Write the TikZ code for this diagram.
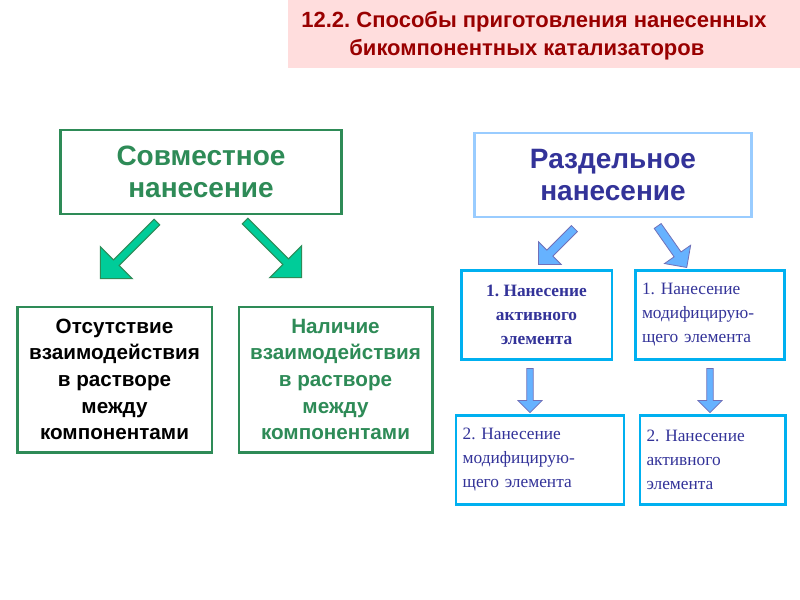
\documentclass[tikz,border=0pt]{standalone}
\usepackage{fontspec}
\setmainfont{Liberation Sans}
\newfontfamily\serifcy{Liberation Serif}
\usetikzlibrary{shapes.arrows}
\frenchspacing
\definecolor{tgreen}{RGB}{46,139,87}
\definecolor{agreen}{RGB}{0,204,153}
\definecolor{ablue}{RGB}{102,178,255}
\definecolor{lblue}{RGB}{153,204,255}
\definecolor{cyanb}{RGB}{0,176,240}
\definecolor{dblue}{RGB}{51,51,153}
\definecolor{dred}{RGB}{153,0,0}
\definecolor{pinkbg}{RGB}{255,221,221}
\begin{document}
\begin{tikzpicture}[x=0.75pt,y=-0.75pt,
  bigbox/.style={draw,line width=2.2pt,align=center,font=\bfseries\fontsize{21}{24}\selectfont},
  midbox/.style={draw=tgreen,line width=2pt,align=center,font=\bfseries\fontsize{15.5}{20}\selectfont},
  smallbox/.style={draw=cyanb,line width=2pt,align=left,text=dblue,font=\serifcy\fontsize{13}{18}\selectfont},
  garrow/.style={single arrow,draw=tgreen,fill=agreen,line width=0.8pt,minimum height=60pt,minimum width=34pt,single arrow head extend=9pt,inner sep=1.5pt},
  barrow/.style={single arrow,draw=dblue!70,fill=ablue,line width=0.6pt,minimum height=38pt,minimum width=24pt,single arrow head extend=5pt,inner sep=1.5pt}]
\useasboundingbox (0,0) rectangle (800,600);
\fill[white] (0,0) rectangle (800,600);
\fill[pinkbg] (288,0) rectangle (800,68);
\node[text=dred,font=\bfseries\fontsize{16.5}{21}\selectfont,align=left] (title) at (534,36)
  {12.2. Способы приготовления нанесенных\\\hspace*{36pt}бикомпонентных катализаторов};
\node[bigbox,draw=tgreen,text=tgreen,minimum width=211pt,minimum height=63pt] (sov) at (201,172) {Совместное\\нанесение};
\node[bigbox,draw=lblue,text=dblue,minimum width=208pt,minimum height=63pt] (raz) at (613,175) {Раздельное\\нанесение};
\node[midbox,text=black,minimum width=146pt,minimum height=109pt] (ots) at (114.5,379.5) {Отсутствие\\взаимодействия\\в растворе\\между\\компонентами};
\node[midbox,text=tgreen,minimum width=145pt,minimum height=109pt] (nal) at (335.5,379.5) {Наличие\\взаимодействия\\в растворе\\между\\компонентами};
\node[garrow,rotate=-135] (ga1) at (130,249) {};
\node[garrow,rotate=-45] (ga2) at (272,248) {};
\node[barrow,rotate=-135] (ba1) at (558,245) {};
\node[barrow,rotate=-55] (ba2) at (671,245) {};
\node[smallbox,minimum width=113pt,minimum height=67pt,align=center,font=\serifcy\bfseries\fontsize{13}{18}\selectfont] (b1) at (536.5,315) {1. Нанесение\\активного\\элемента};
\node[smallbox,minimum width=112pt,minimum height=67pt,text width=102pt] (b2) at (710,315) {1. Нанесение\\модифицирую-\\щего элемента};
\node[smallbox,minimum width=126pt,minimum height=67pt,text width=116pt] (b3) at (540,460) {2. Нанесение\\модифицирую-\\щего элемента};
\node[smallbox,minimum width=109pt,minimum height=67pt,text width=99pt] (b4) at (712.5,460) {2. Нанесение\\активного\\элемента};
\node[barrow,rotate=-90,minimum height=33pt,minimum width=18pt] (da1) at (530,389) {};
\node[barrow,rotate=-90,minimum height=33pt,minimum width=18pt] (da2) at (710,389) {};
\end{tikzpicture}
\end{document}
